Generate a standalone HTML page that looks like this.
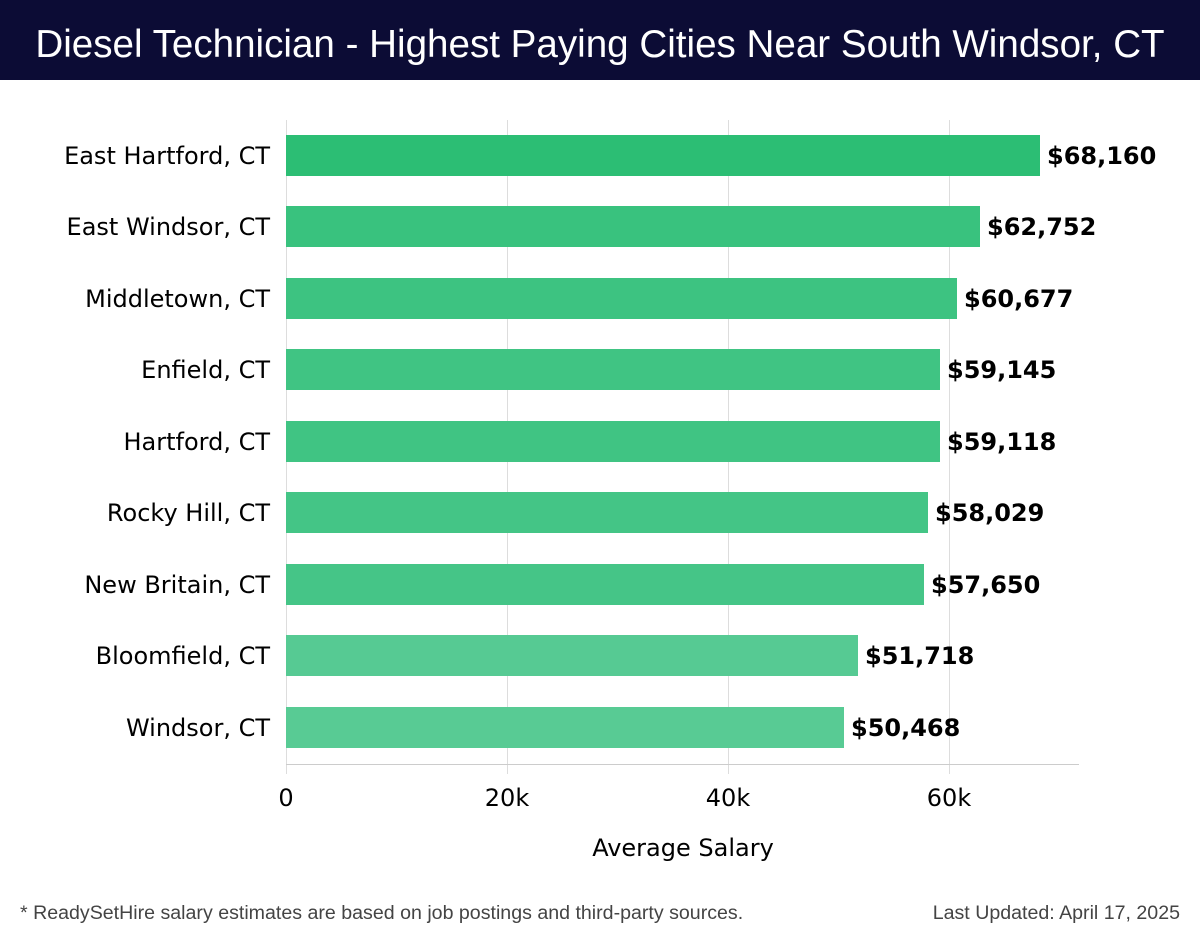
<!DOCTYPE html>
<html><head><meta charset="utf-8"><style>
body{margin:0;width:1200px;height:940px;background:#fff;overflow:hidden;font-family:"DejaVu Sans","Liberation Sans",sans-serif}
</style></head><body>
<svg width="1200" height="940" xmlns="http://www.w3.org/2000/svg">
<rect x="0" y="0" width="1200" height="80" fill="#0c0c35"/>
<text x="600" y="57" text-anchor="middle" fill="#fff" font-family="Liberation Sans, sans-serif" font-size="38.6">Diesel Technician - Highest Paying Cities Near South Windsor, CT</text>
<g stroke="#dddddd" stroke-width="1">
<line x1="507.5" y1="120" x2="507.5" y2="774"/>
<line x1="728.5" y1="120" x2="728.5" y2="774"/>
<line x1="949.5" y1="120" x2="949.5" y2="774"/>
<line x1="286.5" y1="120" x2="286.5" y2="774"/>
<line x1="286" y1="764.5" x2="1079" y2="764.5" stroke="#cccccc"/>
</g>
<g font-size="24" fill="#000">
<rect x="286" y="135" width="754" height="41" fill="#2cbe74"/>
<text x="270" y="164" text-anchor="end">East Hartford, CT</text><text x="1047" y="164" font-weight="bold">$68,160</text>
<rect x="286" y="206" width="694" height="41" fill="#39c27e"/>
<text x="270" y="235" text-anchor="end">East Windsor, CT</text><text x="987" y="235" font-weight="bold">$62,752</text>
<rect x="286" y="278" width="671" height="41" fill="#3dc381"/>
<text x="270" y="307" text-anchor="end">Middletown, CT</text><text x="964" y="307" font-weight="bold">$60,677</text>
<rect x="286" y="349" width="654" height="41" fill="#40c483"/>
<text x="270" y="378" text-anchor="end">Enfield, CT</text><text x="947" y="378" font-weight="bold">$59,145</text>
<rect x="286" y="421" width="654" height="41" fill="#40c483"/>
<text x="270" y="450" text-anchor="end">Hartford, CT</text><text x="947" y="450" font-weight="bold">$59,118</text>
<rect x="286" y="492" width="642" height="41" fill="#44c586"/>
<text x="270" y="521" text-anchor="end">Rocky Hill, CT</text><text x="935" y="521" font-weight="bold">$58,029</text>
<rect x="286" y="564" width="638" height="41" fill="#45c587"/>
<text x="270" y="593" text-anchor="end">New Britain, CT</text><text x="931" y="593" font-weight="bold">$57,650</text>
<rect x="286" y="635" width="572" height="41" fill="#56ca93"/>
<text x="270" y="664" text-anchor="end">Bloomfield, CT</text><text x="865" y="664" font-weight="bold">$51,718</text>
<rect x="286" y="707" width="558" height="41" fill="#58cb94"/>
<text x="270" y="736" text-anchor="end">Windsor, CT</text><text x="851" y="736" font-weight="bold">$50,468</text>
</g>
<g font-size="24" fill="#000" text-anchor="middle">
<text x="286" y="806">0</text><text x="507" y="806">20k</text><text x="728" y="806">40k</text><text x="949" y="806">60k</text>
<text x="683" y="856">Average Salary</text>
</g>
<g font-family="Liberation Sans, sans-serif" font-size="19.6" fill="#444">
<text x="20" y="919">* ReadySetHire salary estimates are based on job postings and third-party sources.</text>
<text x="1180" y="919" text-anchor="end">Last Updated: April 17, 2025</text>
</g>
</svg>
</body></html>
